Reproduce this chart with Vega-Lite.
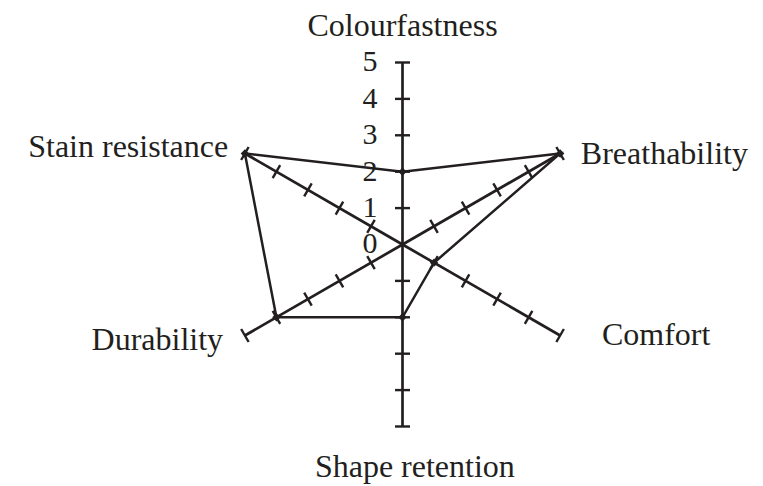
{
  "$schema": "https://vega.github.io/schema/vega-lite/v6.json",
  "width": 763,
  "height": 486,
  "autosize": {"type": "none"},
  "padding": 0,
  "background": "white",
  "config": {"view": {"stroke": null}, "font": "Liberation Serif"},
  "datasets": {
    "scores": [
      {"attribute": "Colourfastness", "order": 0, "value": 2},
      {"attribute": "Breathability", "order": 1, "value": 5},
      {"attribute": "Comfort", "order": 2, "value": 1},
      {"attribute": "Shape retention", "order": 3, "value": 2},
      {"attribute": "Durability", "order": 4, "value": 4},
      {"attribute": "Stain resistance", "order": 5, "value": 5}
    ],
    "axes": [
      {"order": 0, "levels": [1, 2, 3, 4, 5]},
      {"order": 1, "levels": [1, 2, 3, 4, 5]},
      {"order": 2, "levels": [1, 2, 3, 4, 5]},
      {"order": 3, "levels": [1, 2, 3, 4, 5]},
      {"order": 4, "levels": [1, 2, 3, 4, 5]},
      {"order": 5, "levels": [1, 2, 3, 4, 5]}
    ],
    "levels": [
      {"level": 0}, {"level": 1}, {"level": 2}, {"level": 3}, {"level": 4}, {"level": 5}
    ]
  },
  "layer": [
    {
      "data": {"name": "axes"},
      "transform": [
        {"calculate": "PI * (90 - 60 * datum.order) / 180", "as": "theta"},
        {"calculate": "5 * cos(datum.theta)", "as": "ex"},
        {"calculate": "5 * sin(datum.theta)", "as": "ey"},
        {"calculate": "0", "as": "cx"},
        {"calculate": "0", "as": "cy"}
      ],
      "mark": {"type": "rule", "stroke": "#231f20", "strokeWidth": 2.7, "strokeCap": "butt"},
      "encoding": {
        "x": {"field": "cx", "type": "quantitative", "scale": {"domain": [-11.058, 9.904], "nice": false, "zero": false}, "axis": null},
        "y": {"field": "cy", "type": "quantitative", "scale": {"domain": [-6.635, 6.717], "nice": false, "zero": false}, "axis": null},
        "x2": {"field": "ex"},
        "y2": {"field": "ey"}
      }
    },
    {
      "data": {"name": "axes"},
      "transform": [
        {"flatten": ["levels"], "as": ["level"]},
        {"calculate": "PI * (90 - 60 * datum.order) / 180", "as": "theta"},
        {"calculate": "datum.level * cos(datum.theta)", "as": "tx"},
        {"calculate": "datum.level * sin(datum.theta)", "as": "ty"},
        {"calculate": "60 * datum.order", "as": "rot"}
      ],
      "mark": {"type": "point", "shape": "stroke", "size": 225, "filled": false, "stroke": "#231f20", "strokeWidth": 2.4, "opacity": 1},
      "encoding": {
        "x": {"field": "tx", "type": "quantitative", "scale": {"domain": [-11.058, 9.904], "nice": false, "zero": false}, "axis": null},
        "y": {"field": "ty", "type": "quantitative", "scale": {"domain": [-6.635, 6.717], "nice": false, "zero": false}, "axis": null},
        "angle": {"field": "rot", "type": "quantitative", "scale": null}
      }
    },
    {
      "data": {"name": "scores"},
      "transform": [
        {"calculate": "PI * (90 - 60 * datum.order) / 180", "as": "theta"},
        {"calculate": "datum.value * cos(datum.theta)", "as": "px"},
        {"calculate": "datum.value * sin(datum.theta)", "as": "py"}
      ],
      "layer": [
        {
          "mark": {"type": "line", "interpolate": "linear-closed", "stroke": "#231f20", "strokeWidth": 2.5},
          "encoding": {
            "x": {"field": "px", "type": "quantitative", "scale": {"domain": [-11.058, 9.904], "nice": false, "zero": false}, "axis": null},
            "y": {"field": "py", "type": "quantitative", "scale": {"domain": [-6.635, 6.717], "nice": false, "zero": false}, "axis": null},
            "order": {"field": "order", "type": "quantitative"}
          }
        },
        {
          "mark": {"type": "point", "shape": "diamond", "filled": true, "size": 70, "color": "#231f20", "opacity": 1},
          "encoding": {
            "x": {"field": "px", "type": "quantitative", "scale": {"domain": [-11.058, 9.904], "nice": false, "zero": false}, "axis": null},
            "y": {"field": "py", "type": "quantitative", "scale": {"domain": [-6.635, 6.717], "nice": false, "zero": false}, "axis": null}
          }
        }
      ]
    },
    {
      "data": {"name": "levels"},
      "transform": [{"calculate": "0", "as": "cx"}],
      "mark": {"type": "text", "align": "right", "baseline": "middle", "dx": -25, "fontSize": 30, "color": "#231f20", "font": "Liberation Serif"},
      "encoding": {
        "x": {"field": "cx", "type": "quantitative", "scale": {"domain": [-11.058, 9.904], "nice": false, "zero": false}, "axis": null},
        "y": {"field": "level", "type": "quantitative", "scale": {"domain": [-6.635, 6.717], "nice": false, "zero": false}, "axis": null},
        "text": {"field": "level", "type": "quantitative"}
      }
    },
    {
      "data": {"name": "scores"},
      "transform": [
        {"calculate": "[0, 4.90, 5.48, 0.34, -4.93, -4.79][datum.order]", "as": "lx"},
        {"calculate": "[5.73, 2.21, -2.76, -6.39, -2.90, 2.40][datum.order]", "as": "ly"},
        {"calculate": "datum.order == 0 || datum.order == 3 ? 'center' : (datum.order < 3 ? 'left' : 'right')", "as": "side"}
      ],
      "layer": [
        {
          "transform": [{"filter": "datum.side == 'center'"}],
          "mark": {"type": "text", "align": "center", "baseline": "alphabetic", "fontSize": 32, "color": "#231f20", "font": "Liberation Serif"},
          "encoding": {
            "x": {"field": "lx", "type": "quantitative", "scale": {"domain": [-11.058, 9.904], "nice": false, "zero": false}, "axis": null},
            "y": {"field": "ly", "type": "quantitative", "scale": {"domain": [-6.635, 6.717], "nice": false, "zero": false}, "axis": null},
            "text": {"field": "attribute", "type": "nominal"}
          }
        },
        {
          "transform": [{"filter": "datum.side == 'left'"}],
          "mark": {"type": "text", "align": "left", "baseline": "alphabetic", "fontSize": 32, "color": "#231f20", "font": "Liberation Serif"},
          "encoding": {
            "x": {"field": "lx", "type": "quantitative", "scale": {"domain": [-11.058, 9.904], "nice": false, "zero": false}, "axis": null},
            "y": {"field": "ly", "type": "quantitative", "scale": {"domain": [-6.635, 6.717], "nice": false, "zero": false}, "axis": null},
            "text": {"field": "attribute", "type": "nominal"}
          }
        },
        {
          "transform": [{"filter": "datum.side == 'right'"}],
          "mark": {"type": "text", "align": "right", "baseline": "alphabetic", "fontSize": 32, "color": "#231f20", "font": "Liberation Serif"},
          "encoding": {
            "x": {"field": "lx", "type": "quantitative", "scale": {"domain": [-11.058, 9.904], "nice": false, "zero": false}, "axis": null},
            "y": {"field": "ly", "type": "quantitative", "scale": {"domain": [-6.635, 6.717], "nice": false, "zero": false}, "axis": null},
            "text": {"field": "attribute", "type": "nominal"}
          }
        }
      ]
    }
  ]
}
